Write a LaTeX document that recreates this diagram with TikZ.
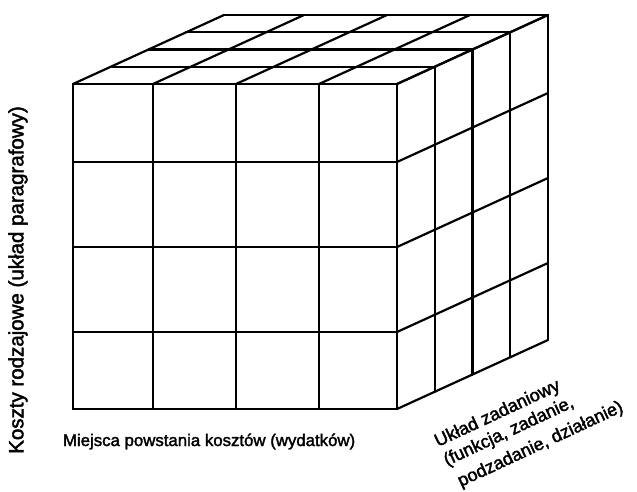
\documentclass[tikz,border=0pt]{standalone}
\usepackage{fontspec}
\setmainfont{Liberation Sans}
\newfontfamily\heavyfont{Liberation Sans}[FakeBold=2]
\begin{document}
\begin{tikzpicture}[x=1pt,y=-1pt,
  grid/.style={line width=2.2pt,line cap=round,line join=round},
  lbl/.style={inner sep=0pt,outer sep=0pt},
  rlbl/.style={lbl,anchor=base west,rotate=25,font=\heavyfont\fontsize{18}{21}\selectfont}]
\useasboundingbox (0,0) rectangle (637,492);
% front face
\def\xa{73}\def\xb{153}\def\xc{236}\def\xd{319}\def\xe{397}
\def\ya{84}\def\yb{162}\def\yc{247}\def\yd{332}\def\ye{409}
\def\dx{151}\def\dy{-69}
% front grid
\foreach \x in {\xa,\xb,\xc,\xd,\xe} \draw[grid] (\x,\ya) -- (\x,\ye);
\foreach \y in {\ya,\yb,\yc,\yd,\ye} \draw[grid] (\xa,\y) -- (\xe,\y);
% top face: receding lines from front columns
\foreach \x in {\xa,\xb,\xc,\xd,\xe} \draw[grid] (\x,\ya) -- ++(\dx,\dy);
% top face: lines parallel to front edge
\foreach \k in {1,2,3,4} \draw[grid] (\xa+\k*\dx/4,\ya+\k*\dy/4) -- (\xe+\k*\dx/4,\ya+\k*\dy/4);
% right face: receding lines from rows
\foreach \y in {\ya,\yb,\yc,\yd,\ye} \draw[grid] (\xe,\y) -- ++(\dx,\dy);
% right face: verticals
\foreach \k in {1,2,3,4} \draw[grid] (\xe+\k*\dx/4,\ya+\k*\dy/4) -- (\xe+\k*\dx/4,\ye+\k*\dy/4);
% labels
\node[lbl,rotate=90,font=\heavyfont\fontsize{20.5}{25}\selectfont] (ly) at (18,280) {Koszty rodzajowe (układ paragrafowy)};
\node[lbl,anchor=base west,font=\heavyfont\fontsize{16.8}{20}\selectfont] (lx) at (63,446) {Miejsca powstania kosztów (wydatków)};
\node[rlbl] (lz1) at (438,447) {Układ zadaniowy};
\node[rlbl] (lz2) at (447,466) {(funkcja, zadanie,};
\node[rlbl] (lz3) at (461,487) {podzadanie, działanie)};
\end{tikzpicture}
\end{document}
